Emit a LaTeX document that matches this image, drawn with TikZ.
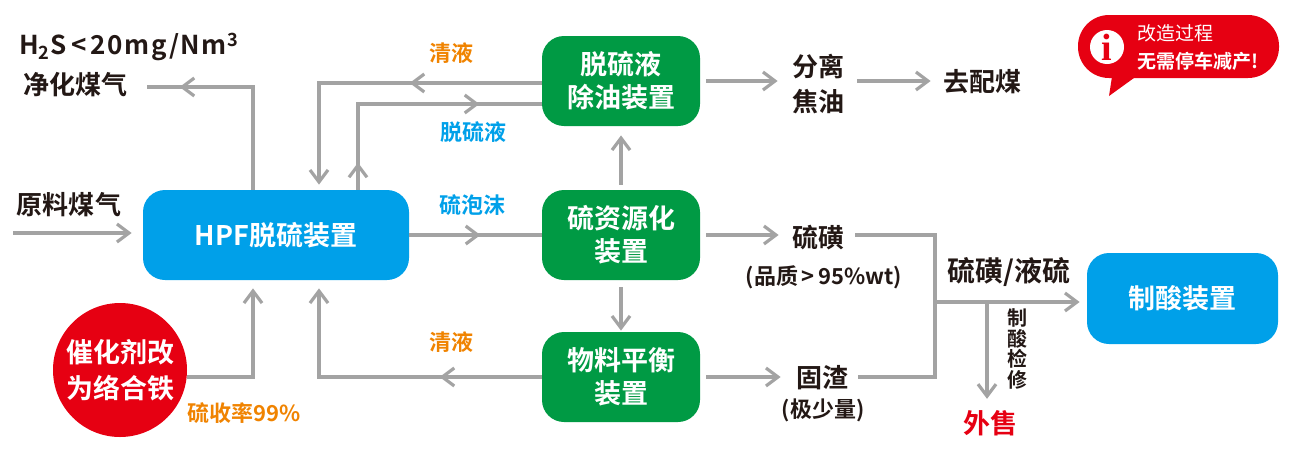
\documentclass[tikz,border=0pt]{standalone}
\usepackage{fontspec}
\setmainfont{Noto Sans CJK SC}[BoldFont={Noto Sans CJK SC Bold}]
\newfontfamily\infofont{Liberation Serif}
\usetikzlibrary{arrows.meta,positioning,decorations.markings}

\definecolor{hpfblue}{RGB}{0,160,233}
\definecolor{procgreen}{RGB}{0,154,68}
\definecolor{alertred}{RGB}{230,0,18}
\definecolor{flowgray}{RGB}{163,163,163}
\definecolor{liquor}{RGB}{240,131,0}
\definecolor{ink}{RGB}{35,24,21}

\begin{document}
\begin{tikzpicture}
    [x=0.5pt, y=-0.5pt,
    >={Straight Barb[length=6pt,width=9pt]},
    flow/.style={draw=flowgray, line width=1.6pt},
    midarrow/.style={postaction={decorate,
      decoration={markings, mark=at position #1 with {\arrow{>}}}}},
    unit/.style={
      rectangle,
      rounded corners=11pt,
      inner sep=0pt,
      align=center,
      text=white,
      font=\bfseries\fontsize{13.5}{16.5}\selectfont},
    bluebox/.style={unit, fill=hpfblue, minimum width=133pt, minimum height=45pt},
    greenbox/.style={unit, fill=procgreen, minimum width=79pt, minimum height=45pt},
    product/.style={inner sep=0pt, align=center, text=ink,
      font=\bfseries\fontsize{13}{17.5}\selectfont},
    note/.style={inner sep=0pt, align=center, text=ink,
      font=\bfseries\fontsize{11}{13}\selectfont},
    tag/.style={inner sep=0pt, font=\bfseries\fontsize{11}{13}\selectfont}
    ]
    \useasboundingbox (0,0) rectangle (1293,461);

    % units
    \node (hpf) [bluebox] at (276,235) {HPF脱硫装置};
    \node (oil) [greenbox] at (621,81) {脱硫液\\除油装置};
    \node (res) [greenbox] at (621,235) {硫资源化\\装置};
    \node (bal) [greenbox] at (621,377) {物料平衡\\装置};
    \node (acid) [bluebox, minimum width=95.5pt, minimum height=45.5pt] at (1182.5,298.5) {制酸装置};
    \node (cat) [circle, fill=alertred, minimum size=67pt, inner sep=0pt, align=center,
      text=white, font=\bfseries\fontsize{13.5}{18}\selectfont] at (120,370) {催化剂改\\为络合铁};

    % streams
    \node (h2s) [product] at (129,47) {\addfontfeature{LetterSpace=6}H\textsubscript{2}S\,<\,20mg/Nm\textsuperscript{3}};
    \node (clean) [product] at (75,85) {净化煤气};
    \node (raw) [product] at (69,205) {原料煤气};
    \node (tar) [product] at (818,84) {分离\\焦油};
    \node (coal) [product] at (982,82) {去配煤};
    \node (sulfur) [product] at (818,238) {硫磺};
    \node (purity) [note] at (824,277) {(品质\,>\,95\%wt)};
    \node (slag) [product] at (822,378) {固渣};
    \node (little) [note] at (823,410) {(极少量)};
    \node (melt) [product, font=\bfseries\fontsize{14}{17}\selectfont] at (1009,272) {硫磺/液硫};
    \node (repair) [inner sep=0pt, align=center, text=ink,
      font=\bfseries\fontsize{10}{10.25}\selectfont] at (1017,349) {制\\酸\\检\\修};
    \node (sale) [product, text=alertred, font=\bfseries\fontsize{13.5}{16}\selectfont] at (990,423) {外售};

    % liquor labels
    \node (clear1) [tag, text=liquor] at (451,53) {清液};
    \node (lean) [tag, text=hpfblue] at (473,132) {脱硫液};
    \node (foam) [tag, text=hpfblue] at (472,205) {硫泡沫};
    \node (clear2) [tag, text=liquor] at (451,342) {清液};
    \node (yield) [tag, text=liquor] at (244,413) {硫收率99\%};

    \coordinate (rawin) at (13,233);
    \coordinate (gasout) at (147,87);
    \coordinate (retloop) at (319,83);
    \coordinate (feedloop) at (358,104);
    \coordinate (merge) at (935,302);
    \coordinate (tap) at (987,302);

    \draw[flow, ->, shorten >=5.5pt] (rawin) -- (rawin -| hpf.west);
    \draw[flow, midarrow=88pt] ([xshift=-11.5pt]hpf.north) |- (gasout);
    \draw[flow, ->, shorten >=2.5pt, midarrow=66pt] (oil.west |- retloop) -| (retloop |- hpf.north);
    \draw[flow, midarrow=13.5pt, midarrow=103.5pt] (feedloop |- hpf.north) |- (oil.west |- feedloop);
    \draw[flow, midarrow=35.5pt] (hpf.east) -- (res.west);
    \draw[flow, ->, shorten <=2.5pt, shorten >=4.5pt] (res.north) -- (oil.south);
    \draw[flow, ->, shorten <=3.5pt, shorten >=0.5pt] (res.south) -- (bal.north);
    \draw[flow, ->, shorten >=4pt, midarrow=51pt] (bal.west) -| (retloop |- hpf.south);
    \draw[flow, ->, shorten >=4pt] (cat.east |- bal.west) -| ([xshift=-11.5pt]hpf.south);

    \draw[flow, ->, shorten <=3pt, shorten >=7pt] (oil.east) -- (oil.east -| tar.west);
    \draw[flow, ->, shorten <=6.5pt, shorten >=6pt] (tar.east |- oil.east) -- (coal.west |- oil.east);
    \draw[flow, ->, shorten <=3pt, shorten >=6.5pt] (res.east) -- (res.east -| sulfur.west);
    \draw[flow, ->, shorten <=3pt, shorten >=7.5pt] (bal.east) -- (bal.east -| slag.west);
    \draw[flow, shorten <=5.5pt, shorten >=5pt] (sulfur.east |- res.east) -| (merge |- bal.east) -- (slag.east |- bal.east);
    \draw[flow, ->, shorten >=3.5pt] (merge) -- (merge -| acid.west);
    \draw[flow, ->, shorten >=5.5pt] (tap) -- (tap |- sale.north);

    % callout
    \fill[alertred] (1113,70) -- (1109,96) -- (1145,70) -- cycle;
    \node (bubble) [fill=alertred, rounded corners=15.5pt, minimum width=100.5pt,
      minimum height=31.5pt, inner sep=0pt] at (1178.5,46.5) {};
    \node (info) [circle, fill=white, minimum size=17pt, inner sep=0pt, text=alertred,
      font=\infofont\bfseries\fontsize{19}{19}\selectfont] at (1107,47) {i};
    \node (note1) [anchor=west, inner sep=0pt, text=white,
      font=\fontsize{9.5}{11}\selectfont] at (1137,33) {改造过程};
    \node (note2) [anchor=west, inner sep=0pt, text=white,
      font=\bfseries\fontsize{9.5}{11}\selectfont] at (1137,61) {无需停车减产!};
\end{tikzpicture}
\end{document}
